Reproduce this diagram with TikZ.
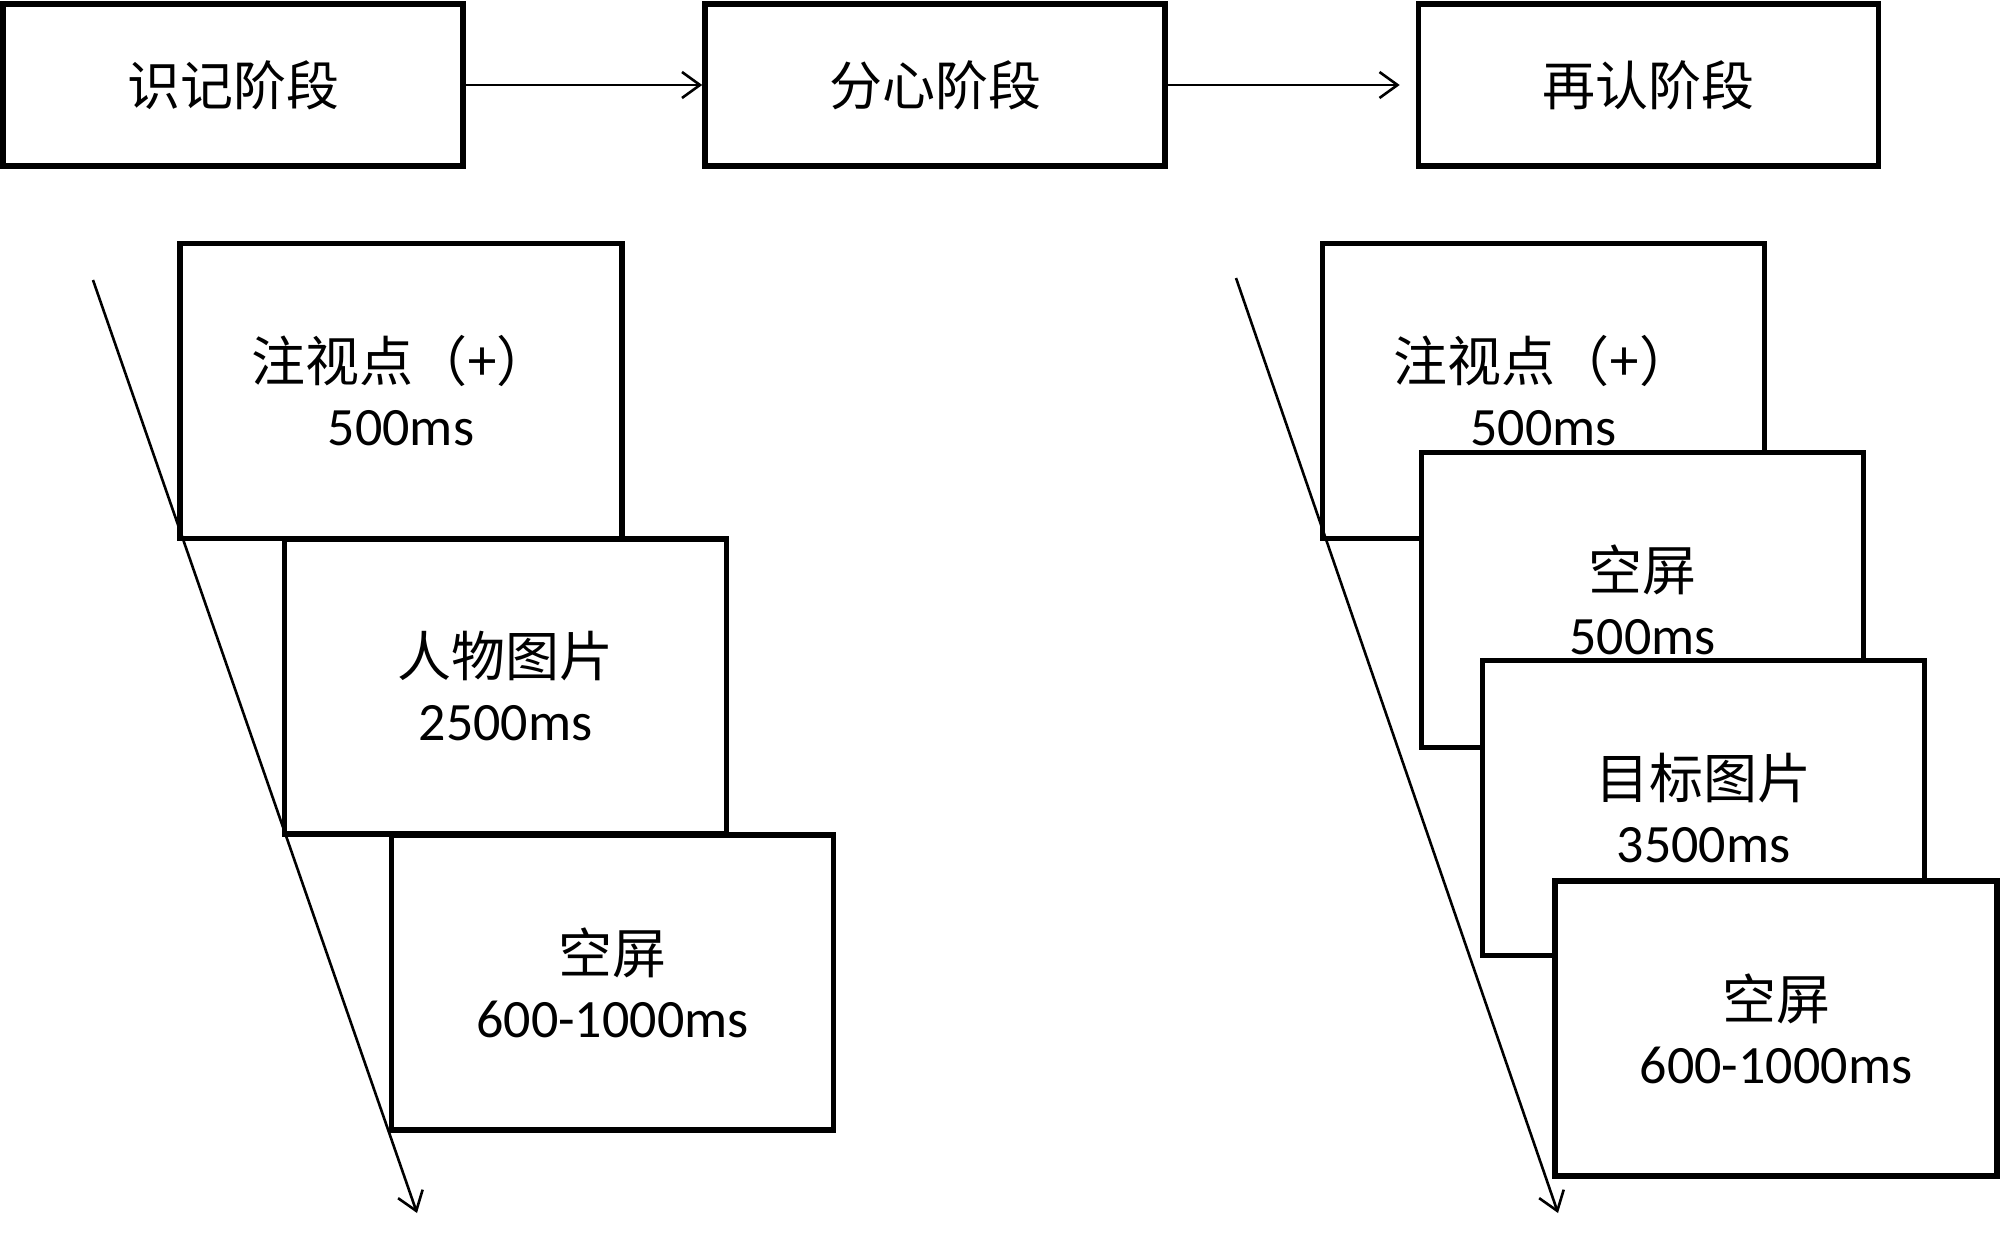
\documentclass[tikz,border=0pt]{standalone}
\usepackage{fontspec}
\setmainfont{Carlito}
\newfontfamily\cjk{Noto Sans CJK SC}
\usetikzlibrary{arrows.meta}
\tikzset{
  stage/.style={draw, line width=2.8pt, fill=white, inner sep=0pt,
    minimum width=230pt, minimum height=81pt, align=center,
    font=\cjk\fontsize{26.5pt}{32.5pt}\selectfont},
  screen/.style={draw, line width=2.8pt, fill=white, inner sep=0pt,
    minimum width=221pt, minimum height=147.5pt, align=center,
    font=\fontsize{27pt}{32pt}\selectfont},
  flow/.style={line width=1.3pt, -{Straight Barb[length=9pt,width=13pt,line width=1.3pt]}},
}
\begin{document}
\begin{tikzpicture}[x=0.5pt,y=-0.5pt]
\useasboundingbox (0,0) rectangle (2000,1236);
% top stages
\node[stage] (s1) at (233,85) {识记阶段};
\node[stage] (s2) at (935,85) {分心阶段};
\node[stage] (s3) at (1648.5,85) {再认阶段};
\draw[flow] (s1.east) -- (s2.west);
\draw[flow, shorten >=8pt] (s2.east) -- (s3.west);
% left stack
\node[screen] (a) at (401,391) {{\cjk 注视点（+）}\\500ms};
\node[screen] (b) at (505.5,686.5) {{\cjk 人物图片}\\2500ms};
\node[screen] (c) at (612.5,982.5) {{\cjk 空屏}\\600-1000ms};
% right stack
\node[screen] (d) at (1543.5,391) {{\cjk 注视点（+）}\\500ms};
\node[screen] (e) at (1642.5,600) {{\cjk 空屏}\\500ms};
\node[screen] (f) at (1703.5,808) {{\cjk 目标图片}\\3500ms};
\node[screen] (g) at (1776,1028.5) {{\cjk 空屏}\\600-1000ms};
% time arrows
\coordinate (t1s) at (93,280);
\coordinate (t1e) at (417,1213);
\coordinate (t2s) at (1236,278);
\coordinate (t2e) at (1558,1213);
\draw[flow] (t1s) -- (t1e);
\draw[flow] (t2s) -- (t2e);
\end{tikzpicture}
\end{document}
